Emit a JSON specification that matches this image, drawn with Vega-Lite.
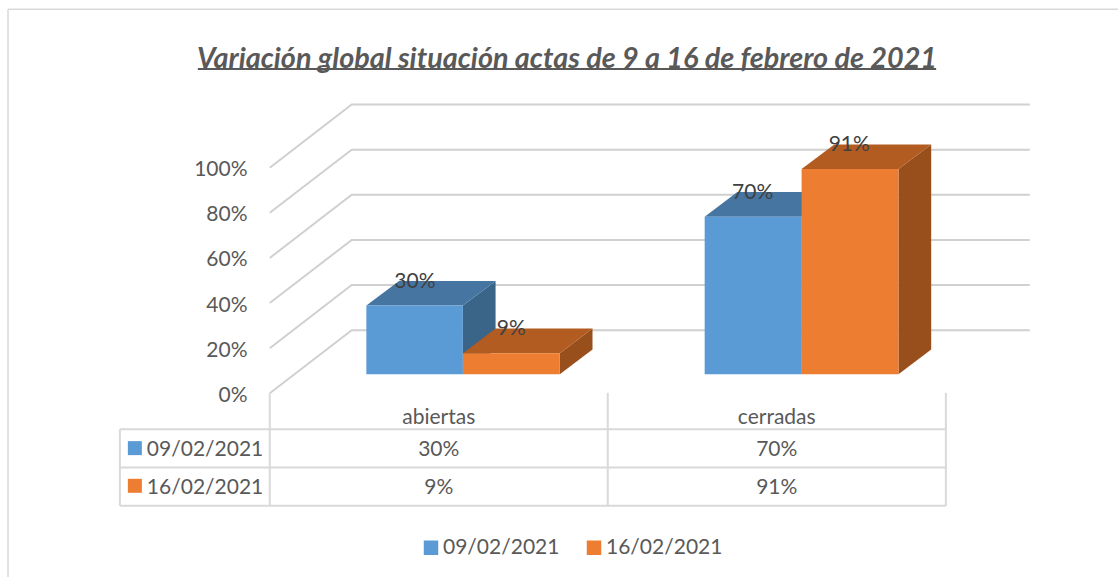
{
"$schema":"https://vega.github.io/schema/vega-lite/v6.json",
"width":1119,"height":578,"padding":0,
"autosize":{"type":"fit","contains":"padding"},
"background":"#ffffff",
"config":{"view":{"stroke":null},"font":"Lato"},
"datasets":{
"grid":[
{"nivel":0,"x":0,"y":0},{"nivel":0,"x":0.2424,"y":28},{"nivel":0,"x":2.2486,"y":28},
{"nivel":20,"x":0,"y":20},{"nivel":20,"x":0.2424,"y":48},{"nivel":20,"x":2.2486,"y":48},
{"nivel":40,"x":0,"y":40},{"nivel":40,"x":0.2424,"y":68},{"nivel":40,"x":2.2486,"y":68},
{"nivel":60,"x":0,"y":60},{"nivel":60,"x":0.2424,"y":88},{"nivel":60,"x":2.2486,"y":88},
{"nivel":80,"x":0,"y":80},{"nivel":80,"x":0.2424,"y":108},{"nivel":80,"x":2.2486,"y":108},
{"nivel":100,"x":0,"y":100},{"nivel":100,"x":0.2424,"y":128},{"nivel":100,"x":2.2486,"y":128}
],
"lateral":[
{"barra":"a1","tono":"09/02/2021 lateral","x":0.5714,"y":38.9,"y2":8.5},{"barra":"a1","tono":"09/02/2021 lateral","x":0.6681,"y":49.8,"y2":19.4},
{"barra":"a2","tono":"16/02/2021 lateral","x":0.8581,"y":17.8,"y2":8.5},{"barra":"a2","tono":"16/02/2021 lateral","x":0.9548,"y":28.7,"y2":19.4},
{"barra":"c1","tono":"09/02/2021 lateral","x":1.5735,"y":78.3,"y2":8.5},{"barra":"c1","tono":"09/02/2021 lateral","x":1.6702,"y":89.2,"y2":19.4},
{"barra":"c2","tono":"16/02/2021 lateral","x":1.8602,"y":99.4,"y2":8.5},{"barra":"c2","tono":"16/02/2021 lateral","x":1.9569,"y":110.3,"y2":19.4}
],
"superior":[
{"barra":"a1","tono":"09/02/2021 superior","y":38.9,"x":0.2858,"x2":0.5714},{"barra":"a1","tono":"09/02/2021 superior","y":49.8,"x":0.3825,"x2":0.6681},
{"barra":"a2","tono":"16/02/2021 superior","y":17.8,"x":0.5714,"x2":0.8581},{"barra":"a2","tono":"16/02/2021 superior","y":28.7,"x":0.6681,"x2":0.9548},
{"barra":"c1","tono":"09/02/2021 superior","y":78.3,"x":1.2867,"x2":1.5735},{"barra":"c1","tono":"09/02/2021 superior","y":89.2,"x":1.3834,"x2":1.6702},
{"barra":"c2","tono":"16/02/2021 superior","y":99.4,"x":1.5735,"x2":1.8602},{"barra":"c2","tono":"16/02/2021 superior","y":110.3,"x":1.6702,"x2":1.9569}
],
"frente":[
{"tono":"09/02/2021","x":0.2858,"x2":0.5714,"y":38.9,"y2":8.5},
{"tono":"16/02/2021","x":0.5714,"x2":0.8581,"y":17.8,"y2":8.5},
{"tono":"09/02/2021","x":1.2867,"x2":1.5735,"y":78.3,"y2":8.5},
{"tono":"16/02/2021","x":1.5735,"x2":1.8602,"y":99.4,"y2":8.5}
],
"tabla":[
{"x":-0.4434,"x2":2.0003,"y":-15.93,"y2":-15.93},
{"x":-0.4434,"x2":2.0003,"y":-32.88,"y2":-32.88},
{"x":-0.4434,"x2":2.0003,"y":-49.87,"y2":-49.87},
{"x":-0.4434,"x2":-0.4434,"y":-15.93,"y2":-49.87},
{"x":0,"x2":0,"y":0,"y2":-49.87},
{"x":1,"x2":1,"y":0.2,"y2":-49.87},
{"x":2.0003,"x2":2.0003,"y":0.2,"y2":-49.87}
],
"marco":[
{"x":-0.7744,"x2":2.5096,"y":170.2,"y2":170.2},
{"x":-0.7744,"x2":-0.7744,"y":170.2,"y2":-81.42}
],
"claves":[
{"tono":"09/02/2021","x":-0.3991,"y":-24.3},
{"tono":"16/02/2021","x":-0.3991,"y":-41.0}
],
"etiquetas":[
{"x":0.4295,"y":50.4,"texto":"30%"},
{"x":0.7145,"y":29.3,"texto":"9%"},
{"x":1.4286,"y":89.5,"texto":"70%"},
{"x":1.7144,"y":110.9,"texto":"91%"}
],
"celdas":[
{"x":0.5,"y":-10,"texto":"abiertas"},
{"x":1.5,"y":-10,"texto":"cerradas"},
{"x":0.5,"y":-24.3,"texto":"30%"},
{"x":1.5,"y":-24.3,"texto":"70%"},
{"x":0.5,"y":-41.2,"texto":"9%"},
{"x":1.5,"y":-41.2,"texto":"91%"}
],
"series":[
{"x":-0.3636,"y":-24.3,"texto":"09/02/2021"},
{"x":-0.3636,"y":-41.2,"texto":"16/02/2021"}
],
"titulo":[{"x":0.8794,"y":149.0,"texto":"Variación global situación actas de 9 a 16 de febrero de 2021"}],
"subrayado":[{"x":-0.2128,"x2":1.9716,"y":143.8,"y2":143.8}]
},
"encoding":{
"x":{"field":"x","type":"quantitative","axis":null,"scale":{"domain":[-0.7981,2.5096],"nice":false,"zero":false}},
"y":{"field":"y","type":"quantitative","scale":{"domain":[-81.42,174.34],"nice":false,"zero":false},
"axis":{"values":[0,20,40,60,80,100],"labelExpr":"datum.value+'%'","title":null,"domain":false,"ticks":false,"grid":false,"offset":-247,"labelPadding":0,"labelOffset":2,"labelFontSize":21,"labelColor":"#595959","labelFont":"Lato"}}
},
"layer":[
{"data":{"name":"marco"},"mark":{"type":"rule","stroke":"#d9d9d9","strokeWidth":1.5},"encoding":{"x2":{"field":"x2"},"y2":{"field":"y2"}}},
{"data":{"name":"grid"},"mark":{"type":"line","stroke":"#d0d0d0","strokeWidth":2},"encoding":{"detail":{"field":"nivel"}}},
{"data":{"name":"lateral"},"mark":{"type":"area"},"encoding":{"y2":{"field":"y2"},"detail":{"field":"barra"},
"color":{"field":"tono","type":"nominal","scale":{"domain":["09/02/2021","16/02/2021","09/02/2021 superior","16/02/2021 superior","09/02/2021 lateral","16/02/2021 lateral"],"range":["#5b9bd5","#ed7d31","#4675a1","#b35c22","#3a6488","#984f1c"]},
"legend":{"values":["09/02/2021","16/02/2021"],"orient":"none","legendX":420.5,"legendY":537,"direction":"horizontal","columns":2,"title":null,"symbolType":"square","symbolSize":210,"symbolStrokeWidth":0,"labelFontSize":21,"labelColor":"#595959","labelFont":"Lato","labelOffset":1.5,"columnPadding":24,"padding":0}}}},
{"data":{"name":"superior"},"mark":{"type":"area","orient":"horizontal"},"encoding":{"x2":{"field":"x2"},"detail":{"field":"barra"},"color":{"field":"tono","type":"nominal"}}},
{"data":{"name":"frente"},"mark":{"type":"rect"},"encoding":{"x2":{"field":"x2"},"y2":{"field":"y2"},"color":{"field":"tono","type":"nominal"}}},
{"data":{"name":"tabla"},"mark":{"type":"rule","stroke":"#d9d9d9","strokeWidth":2},"encoding":{"x2":{"field":"x2"},"y2":{"field":"y2"}}},
{"data":{"name":"claves"},"mark":{"type":"point","shape":"square","filled":true,"size":196,"opacity":1},"encoding":{"color":{"field":"tono","type":"nominal"}}},
{"data":{"name":"etiquetas"},"mark":{"type":"text","fontSize":21,"dy":2,"color":"#404040","font":"Lato","align":"center","baseline":"middle"},"encoding":{"text":{"field":"texto"}}},
{"data":{"name":"celdas"},"mark":{"type":"text","fontSize":21,"dy":2,"color":"#595959","font":"Lato","align":"center","baseline":"middle"},"encoding":{"text":{"field":"texto"}}},
{"data":{"name":"series"},"mark":{"type":"text","fontSize":21,"dy":2,"color":"#595959","font":"Lato","align":"left","baseline":"middle"},"encoding":{"text":{"field":"texto"}}},
{"data":{"name":"titulo"},"mark":{"type":"text","fontSize":28.8,"dy":2,"fontWeight":"bold","fontStyle":"italic","color":"#595959","font":"Lato","align":"center","baseline":"middle"},"encoding":{"text":{"field":"texto"}}},
{"data":{"name":"subrayado"},"mark":{"type":"rule","stroke":"#595959","strokeWidth":2},"encoding":{"x2":{"field":"x2"},"y2":{"field":"y2"}}}
]
}
